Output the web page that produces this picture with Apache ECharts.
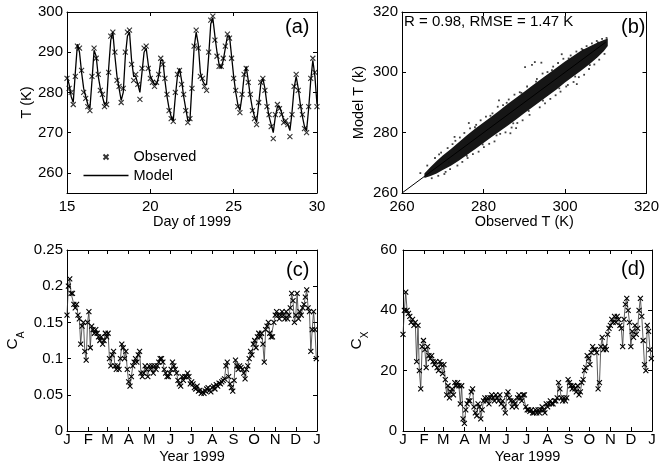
<!DOCTYPE html>
<html><head><meta charset="utf-8">
<script src="https://cdn.jsdelivr.net/npm/echarts@6/dist/echarts.min.js"></script>
<style>html,body{margin:0;padding:0;background:#fff}#c{width:662px;height:471px}</style>
</head><body><div id="c"></div>
<script>
// ---------- Panel (a): temperature, 3-hour samples from day 15 to 30 ----------
const aStart = 15, aStep = 0.125;
const aModel = [
 284,282,279,277.5,285,292,290,285,
 281,279,277,276,283,290.5,289,284,
 281,279,277,277.5,286,293,295,289,
 284,281,278,280,289,294,295,288,
 284,284,282,280,285,290,291,287,
 284,283,282,282,284,288,288,283,
 279,276,274,273,279,284,286,283,
 279,276,273,273,282,291,295,292,
 285,283,282,282,289,297,298.5,294,
 290,287,286,288,291,294,294,289,
 284,280,277,275.5,279,284,286.5,283,
 279,276,274,272.5,277,282,283.5,281,
 277,274,272,270,274,276.5,276.5,275,
 273,272.5,272,270.5,275,281,284,281,
 277,274,271.5,270.5,276,283,288,284,
 277];
const aObs = [
 283.5,281,280,277,284,291.5,291,285.5,
 280,278.5,276.5,275.5,284,291,288.5,284.5,
 280.5,279.5,276.5,277,285,294,295,290,
 283,281.5,277.5,281,290,295,295.5,287,
 283,284.5,282,278.3,286,291,291.5,286,
 283.5,282.5,281.5,282.5,284.5,288.5,287,283.5,
 279.5,275.5,273.5,272.8,280,284.5,285.5,282,
 279.5,275.5,272.5,273.5,281,291.5,295.5,291,
 284,283.5,281.5,280.5,290,298,299,293,
 289,286.5,286.5,288.5,291.5,294.5,293.5,288.5,
 283.5,280.5,276.5,275,279.5,284.5,286,282.5,
 279.5,275.5,273.5,272,277.5,282.5,283.5,280.5,
 276.5,274.5,271.5,268.5,274.5,277,276,274.5,
 272.5,273,272,269,274.5,281.5,284.5,280.5,
 276.5,274.5,271,270,276.5,283.5,288.5,285,
 276.5];
const aYTicks = [260,270,280,290,300];

// ---------- Panel (b): observed vs model cloud (core envelope + edge speckles) ----------
const bObs = [265.5,267,268.5,270,272,274,276,278,280,282,284,286,288,290,292,294,296,298,300,302,304,306,308,309.5,310.5];
const bLo  = [265,265.6,266.5,267.6,269,270.8,272.7,274.6,276.6,278.6,280.5,282.4,284.4,286.4,288.4,290.4,292.4,294.4,296.6,298.6,300.6,302.7,305,307,308.7];
const bHi  = [266.5,268.6,270.6,272.4,274.6,276.9,279.2,281.4,283.4,285.4,287.4,289.6,291.6,293.6,295.6,297.6,299.6,301.6,303.6,305.4,307.2,308.6,309.9,310.7,311.2];
const bSpeck = [
 [264.5,266.6],[266.2,269.1],[267.3,264.9],[268.1,271.6],[268.9,265.7],[269.6,273.4],[270.4,266.3],[271.2,274.9],
 [271.8,267.9],[272.4,276.2],[272.9,278.6],[273.6,269.1],[274.2,278.4],[274.8,270.3],[275.3,279.9],[276.1,271.6],
 [276.7,281.4],[277.4,272.9],[278.2,282.6],[278.8,273.7],[279.3,284.1],[280.1,275.2],[280.6,285.3],[281.4,276.3],
 [282.2,286.4],[282.7,277.1],[283.5,288.6],[284.1,279.6],[284.8,289.1],[285.4,280.1],[286.2,291.0],[286.9,281.7],
 [287.6,292.6],[288.3,283.2],[288.9,293.4],[289.6,284.1],[290.2,301.7],[290.7,295.3],[291.3,285.9],[291.9,302.5],
 [292.6,303.4],[293.1,297.8],[293.8,288.4],[294.5,299.6],[295.1,289.7],[295.7,300.1],[296.4,291.2],[297.1,301.9],
 [297.7,292.4],[298.3,303.1],[298.9,293.6],[299.6,304.5],[300.3,295.3],[300.7,295.8],[301.4,305.6],[302.1,296.8],
 [302.8,306.9],[303.4,298.4],[304.1,307.8],[304.7,299.2],[305.3,308.7],[305.9,301.1],[306.6,309.6],[307.2,302.6],
 [307.8,310.4],[308.4,304.2],[309.1,311.1],[309.7,306.1],[310.2,311.4],
 [269.1,272.8],[270.7,267.0],[273.1,277.3],[275.9,272.3],[277.9,281.8],[279.8,276.1],[281.7,285.6],[283.2,279.1],
 [285.7,289.9],[287.3,283.1],[289.3,293.2],[291.1,287.2],[292.9,296.9],[294.6,290.6],[296.8,300.7],[298.6,294.7],
 [300.9,304.6],[302.5,298.6],[304.4,307.4],[306.1,302.4],[308.1,309.9],[271.5,270.2],[286.6,279.8],[299.2,306.0],
 [294.2,303.2],[283.8,290.7],[276.4,283.2],[302.9,296.1],[288.0,281.5]];
const oneToOne = [260, 310];

// ---------- Panels (c) and (d): 2-day samples through 1999 ----------
const cStep = 2;
const cA = [
 0.16,0.20,0.21,0.19,0.19,0.175,0.17,0.175,0.16,0.155,0.12,0.145,0.15,0.11,0.098,0.15,
 0.165,0.115,0.145,0.14,0.135,0.14,0.135,0.13,0.125,0.13,0.12,0.125,0.135,0.13,0.135,0.1,
 0.09,0.105,0.11,0.09,0.085,0.09,0.085,0.1,0.12,0.115,0.1,0.11,0.085,0.068,0.062,0.075,
 0.09,0.095,0.1,0.095,0.105,0.11,0.08,0.075,0.08,0.09,0.085,0.075,0.09,0.085,0.09,0.08,
 0.09,0.085,0.09,0.095,0.1,0.1,0.095,0.085,0.08,0.075,0.075,0.08,0.085,0.095,0.09,0.085,
 0.08,0.07,0.065,0.062,0.075,0.07,0.075,0.075,0.08,0.075,0.065,0.068,0.065,0.06,0.058,0.062,
 0.055,0.056,0.052,0.054,0.052,0.055,0.058,0.06,0.056,0.054,0.06,0.062,0.058,0.064,0.062,0.066,
 0.065,0.068,0.07,0.072,0.09,0.095,0.075,0.065,0.06,0.055,0.07,0.098,0.09,0.085,0.09,0.088,
 0.085,0.08,0.072,0.085,0.09,0.1,0.11,0.105,0.12,0.125,0.115,0.13,0.135,0.13,0.135,0.12,
 0.095,0.14,0.145,0.15,0.135,0.13,0.13,0.15,0.16,0.165,0.16,0.155,0.16,0.165,0.16,0.155,
 0.165,0.155,0.16,0.17,0.19,0.18,0.15,0.16,0.19,0.155,0.165,0.16,0.17,0.175,0.185,0.195,
 0.17,0.165,0.11,0.14,0.165,0.14,0.10];
const cX = [
 32,40,46,40,39,38,36,37,35,36,23,35,20,14,28,30,
 27,21,28,25,24,25,23,22,23,21,20,23,22,19,22,17,
 12,15,11,13,14,12,16,15,16,15,9,15,4,2.5,7,9,
 10,10,13,14,8,6,5,9,8,4,7,10,11,10,11,9,
 11,12,11,10,12,11,10,12,9,10,8,6,12,13,11,10,
 8,10,9,8,11,12,11,10,12,12,8,7,7,6.5,7,6,
 6,7,6,7,6,7,8,7,6,9,8,9,10,9,9,10,
 10,11,16,14,11,10,11,10,11,17,16,15,14,15,14,13,
 15,12,13,16,17,20,21,25,24,22,26,28,27,27,26,14,
 16,28,31,27,28,27,32,34,35,37,36,38,36,38,37,35,
 34,28,37,42,44,40,36,28,33,31,35,32,34,40,44,38,
 30,22,20,35,33,27,24];
const monthStart = [0,31,59,90,120,151,181,212,243,273,304,334,365];
const monthLabels = ['J','F','M','A','M','J','J','A','S','O','N','D','J'];

// ---------- build ----------
const FF = 'Liberation Sans, Arial, Helvetica, sans-serif';
const aTime = aModel.map((_, i) => aStart + i * aStep);
const cDaysA = cA.map((_, i) => i * cStep);
const cDaysX = cX.map((_, i) => i * cStep);
const cross = 'path://M0,0L10,10M10,0L0,10';

const grids = [
  {left: 67, top: 12, width: 250, height: 181},
  {left: 402, top: 12, width: 250, height: 181},
  {left: 67, top: 250, width: 250, height: 181},
  {left: 403, top: 250, width: 249, height: 181}
];

function tickCfg(custom) {
  const t = {inside: true, length: 4, lineStyle: {color: '#000', width: 1}};
  if (custom) t.customValues = custom;
  return t;
}
function axisPair(kind, g, cfg) {
  const base = {gridIndex: g, type: 'value', min: cfg.min, max: cfg.max,
    splitLine: {show: false}, axisLine: {onZero: false, lineStyle: {color: '#000', width: 1}}};
  if (cfg.interval) base.interval = cfg.interval;
  const lab = {color: '#000', fontSize: 15, fontFamily: FF, margin: cfg.margin};
  if (cfg.custom) lab.customValues = cfg.custom;
  if (cfg.formatter) lab.formatter = cfg.formatter;
  const main = Object.assign({}, base, {
    position: kind === 'x' ? 'bottom' : 'left',
    axisTick: tickCfg(cfg.custom), axisLabel: lab,
    name: cfg.name, nameLocation: 'middle', nameGap: cfg.nameGap,
    nameTextStyle: Object.assign({color: '#000', fontSize: 14.5, fontFamily: FF}, cfg.nameStyle || {})
  });
  const other = Object.assign({}, base, {
    position: kind === 'x' ? 'top' : 'right',
    axisTick: tickCfg(cfg.custom), axisLabel: {show: false}
  });
  return [main, other];
}
const monthFmt = v => monthLabels[monthStart.indexOf(Math.round(v))] || '';
const subRich = {rich: {
  c: {fontSize: 15.5, lineHeight: 26, verticalAlign: 'middle', fontFamily: FF, color: '#000'},
  s: {fontSize: 10, lineHeight: 10, verticalAlign: 'bottom', fontFamily: FF, color: '#000'}
}};

const xAxis = [].concat(
  axisPair('x', 0, {min: 15, max: 30, interval: 5, margin: 6, name: 'Day of 1999', nameGap: 19}),
  axisPair('x', 1, {min: 260, max: 320, interval: 20, margin: 6, name: 'Observed T (K)', nameGap: 19}),
  axisPair('x', 2, {min: 0, max: 365, custom: monthStart, formatter: monthFmt, margin: 1, name: 'Year 1999', nameGap: 18}),
  axisPair('x', 3, {min: 0, max: 365, custom: monthStart, formatter: monthFmt, margin: 1, name: 'Year 1999', nameGap: 18})
);
const yAxis = [].concat(
  axisPair('y', 0, {min: 255, max: 300, custom: aYTicks, margin: 4, name: 'T (K)', nameGap: 33}),
  axisPair('y', 1, {min: 260, max: 320, interval: 20, margin: 4, name: 'Model T (k)', nameGap: 36}),
  axisPair('y', 2, {min: 0, max: 0.25, interval: 0.05, margin: 4, name: '{c|C}{s|A}', nameGap: 41, nameStyle: subRich}),
  axisPair('y', 3, {min: 0, max: 60, interval: 20, margin: 6, name: '{c|C}{s|X}', nameGap: 33, nameStyle: subRich})
);

const markerStyle = {color: '#000', borderColor: '#000', borderWidth: 1.1};

const series = [
  {name: 'Model', type: 'line', xAxisIndex: 0, yAxisIndex: 0,
   data: aTime.map((t, i) => [t, aModel[i]]), symbol: 'none', showSymbol: false,
   lineStyle: {color: '#000', width: 1.3}, itemStyle: {color: '#000'}, z: 2},
  {name: 'Observed', type: 'scatter', xAxisIndex: 0, yAxisIndex: 0,
   data: aTime.map((t, i) => [t, aObs[i]]), symbol: cross, symbolSize: 5,
   itemStyle: markerStyle, z: 3},
  {type: 'custom', xAxisIndex: 2, yAxisIndex: 2, silent: true,
   data: [[bObs[0], bLo[0]]],
   renderItem: function (params, api) {
     const pts = [];
     for (let i = 0; i < bObs.length; i++) pts.push(api.coord([bObs[i], bLo[i]]));
     for (let i = bObs.length - 1; i >= 0; i--) pts.push(api.coord([bObs[i], bHi[i]]));
     return {type: 'polygon', shape: {points: pts}, style: {fill: '#161616'}};
   }, z: 2},
  {type: 'scatter', xAxisIndex: 2, yAxisIndex: 2, data: bSpeck, symbol: 'rect', symbolSize: 1.8,
   itemStyle: {color: '#111'}, silent: true, z: 3},
  {type: 'line', xAxisIndex: 2, yAxisIndex: 2, data: oneToOne.map(v => [v, v]), symbol: 'none',
   lineStyle: {color: '#000', width: 1}, silent: true, z: 4},
  {type: 'line', xAxisIndex: 4, yAxisIndex: 4, data: cDaysA.map((d, i) => [d, cA[i]]),
   symbol: cross, symbolSize: 5, showAllSymbol: true,
   lineStyle: {color: '#333', width: 0.8}, itemStyle: markerStyle},
  {type: 'line', xAxisIndex: 6, yAxisIndex: 6, data: cDaysX.map((d, i) => [d, cX[i]]),
   symbol: cross, symbolSize: 5, showAllSymbol: true,
   lineStyle: {color: '#333', width: 0.8}, itemStyle: markerStyle}
];

const txt = (x, y, text, size) => ({type: 'text', x: x, y: y, silent: true,
  style: {text: text, fontSize: size, fontFamily: FF, fill: '#000', align: 'left', verticalAlign: 'middle'}});

const option = {
  animation: false,
  backgroundColor: '#fff',
  grid: grids,
  xAxis: xAxis,
  yAxis: yAxis,
  legend: {data: [{name: 'Observed'}, {name: 'Model', icon: 'path://M0,0H45V1.3H0Z'}],
    orient: 'vertical', left: 83.5, top: 149.5,
    itemWidth: 45, itemHeight: 5, itemGap: 3.5, padding: 0, selectedMode: false,
    symbolKeepAspect: true,
    textStyle: {fontSize: 14.5, color: '#000', fontFamily: FF}},
  graphic: [
    txt(285, 27.5, '(a)', 20),
    txt(621, 27.5, '(b)', 20),
    txt(286, 270, '(c)', 20),
    txt(621, 269, '(d)', 20),
    txt(404, 22, 'R = 0.98, RMSE = 1.47 K', 15)
  ],
  series: series
};
const chart = echarts.init(document.getElementById('c'));
chart.setOption(option);
</script>
</body></html>
